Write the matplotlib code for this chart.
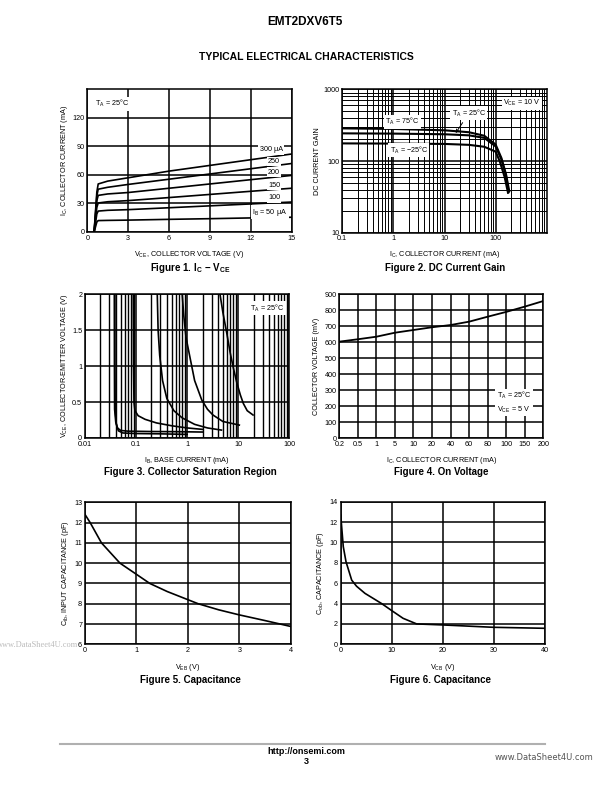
import matplotlib
matplotlib.use("Agg")
import matplotlib.pyplot as plt
from matplotlib.ticker import NullFormatter, LogLocator

plt.rcParams['font.family'] = ['Liberation Sans Narrow', 'Liberation Sans', 'DejaVu Sans']
plt.rcParams['mathtext.default'] = 'regular'

# ---------------- data ----------------
# Figure 1: IC vs VCE for several IB
vce_pts = [0.5, 0.7, 0.8, 1.5, 3, 6, 9, 12, 15]
ib_labels = ['300 \u03bcA', '250', '200', '150', '100', 'I$_B$ = 50 \u03bcA']
ic_300 = [0, 42, 50.5, 53.5, 57, 64, 70, 76, 82]
ic_250 = [0, 38, 45, 47, 50, 55.5, 61, 66.5, 72]
ic_200 = [0, 33, 38.5, 40, 41.5, 46, 50.5, 55, 59.5]
ic_150 = [0, 26, 30.5, 31.8, 33, 36.2, 39.5, 42.8, 46]
ic_100 = [0, 19, 22, 22.8, 23.5, 25.5, 27.5, 29.5, 31.5]
ic_50 = [0, 10.5, 12, 12.2, 12.5, 13.3, 14, 14.8, 15.5]

# Figure 2: DC current gain
ic_75 = [0.1, 1, 10, 30, 60, 100, 130, 160, 185]
hfe_75 = [285, 280, 268, 252, 225, 170, 110, 65, 38]
ic_25 = [0.1, 1, 10, 30, 60, 100, 130, 160, 180]
hfe_25 = [243, 241, 236, 228, 210, 160, 105, 62, 37]
ic_m25 = [0.1, 1, 10, 30, 60, 100, 120, 150, 175]
hfe_m25 = [176, 175, 173, 168, 158, 135, 100, 60, 36]

# Figure 3: collector saturation region
ib_a1 = [0.0385, 0.0386, 0.039, 0.041, 0.045, 0.055, 0.1, 0.3, 1.0]
vsat_a1 = [2.0, 1.0, 0.4, 0.2, 0.1, 0.07, 0.062, 0.058, 0.05]
ib_a2 = [0.0375, 0.0377, 0.038, 0.040, 0.043, 0.05, 0.07, 0.2, 0.6, 2.0]
vsat_a2 = [2.0, 1.0, 0.4, 0.22, 0.14, 0.105, 0.095, 0.09, 0.088, 0.083]
ib_c = [0.088, 0.089, 0.091, 0.095, 0.11, 0.15, 0.25, 0.5, 1.0, 2.0]
vsat_c = [2.0, 1.0, 0.5, 0.38, 0.31, 0.26, 0.21, 0.17, 0.14, 0.12]
ib_d = [0.26, 0.27, 0.29, 0.33, 0.4, 0.55, 0.8, 1.4, 2.5, 4.7]
vsat_d = [2.0, 1.5, 1.15, 0.8, 0.55, 0.38, 0.28, 0.19, 0.14, 0.11]
ib_e = [0.8, 0.86, 0.95, 1.13, 1.4, 1.93, 2.5, 3.2, 5, 10.5]
vsat_e = [2.0, 1.7, 1.4, 1.13, 0.8, 0.53, 0.4, 0.32, 0.23, 0.18]
ib_f = [4.4, 5.0, 6.0, 6.9, 8.0, 9.3, 11, 12.6, 15, 19.5]
vsat_f = [2.0, 1.75, 1.45, 1.2, 0.98, 0.78, 0.6, 0.48, 0.38, 0.32]

# Figure 4: on voltage (categorical current axis)
ic_cats = ['0.2', '0.5', '1', '5', '10', '20', '40', '60', '80', '100', '150', '200']
v_on = [604, 619, 635, 660, 677, 694, 708, 729, 760, 790, 823, 858]

# Figure 5: input capacitance
veb = [0, 0.1, 0.32, 0.68, 1.0, 1.26, 1.6, 2.2, 2.6, 3.0, 3.5, 4.0]
cib = [12.4, 12.0, 11.0, 10.0, 9.45, 9.0, 8.6, 8.0, 7.7, 7.45, 7.17, 6.88]

# Figure 6: output capacitance
vcb = [0, 0.5, 1.04, 2.15, 3.1, 4.75, 8, 10, 12.2, 14.85, 20, 29.8, 40]
cob = [12.7, 9.6, 8.1, 6.3, 5.7, 5.0, 4.0, 3.3, 2.55, 2.0, 1.9, 1.67, 1.57]

# ---------------- figure ----------------
fig = plt.figure(figsize=(6.12, 7.92), dpi=100)
W, H = 612.0, 792.0

def axes_px(l, t, r, b):
    return fig.add_axes([l / W, 1 - b / H, (r - l) / W, (b - t) / H])

tick_fs = 5.2
lab_fs = 5.2
cap_fs = 7
box = dict(facecolor='white', edgecolor='none', pad=1.0)

def style(ax):
    for s in ax.spines.values():
        s.set_linewidth(1.1)
    ax.tick_params(which='both', length=0, labelsize=tick_fs, pad=2)
    ax.grid(True, which='major', color='black', linewidth=1.1)
    ax.set_axisbelow(True)

# Figure 1
ax1 = axes_px(87.3, 89.3, 291.7, 232)
for ic in [ic_300, ic_250, ic_200, ic_150, ic_100, ic_50]:
    ax1.plot(vce_pts, ic, color='black', lw=1.2)
ax1.set_xlim(0, 15)
ax1.set_ylim(0, 150)
ax1.set_xticks([0, 3, 6, 9, 12, 15])
ax1.set_yticks([0, 30, 60, 90, 120])
style(ax1)
lab_y = [86.5, 74, 63, 49, 36, 21]
lab_x = [13.5, 13.7, 13.7, 13.7, 13.7, 13.4]
for t, x, y in zip(ib_labels, lab_x, lab_y):
    ax1.text(x, y, t, fontsize=tick_fs, ha='center', va='center', bbox=box)
ax1.text(0.6, 135, 'T$_A$ = 25\u00b0C', fontsize=tick_fs, ha='left', va='center', bbox=box)
ax1.set_xlabel('V$_{CE}$, COLLECTOR VOLTAGE (V)', fontsize=lab_fs, labelpad=5)
ax1.set_ylabel('I$_C$, COLLECTOR CURRENT (mA)', fontsize=lab_fs, labelpad=1.5)

# Figure 2
ax2 = axes_px(342.3, 89.3, 546.7, 232.7)
ax2.plot(ic_75, hfe_75, color='black', lw=1.5)
ax2.plot(ic_25, hfe_25, color='black', lw=1.5)
ax2.plot(ic_m25, hfe_m25, color='black', lw=1.5)
ax2.set_xscale('log')
ax2.set_yscale('log')
ax2.set_xlim(0.1, 1000)
ax2.set_ylim(10, 1000)
ax2.set_xticks([0.1, 1, 10, 100])
ax2.set_xticklabels(['0.1', '1', '10', '100'])
ax2.set_yticks([10, 100, 1000])
ax2.set_yticklabels(['10', '100', '1000'])
ax2.xaxis.set_minor_locator(LogLocator(base=10, subs=range(2, 10)))
ax2.yaxis.set_minor_locator(LogLocator(base=10, subs=range(2, 10)))
ax2.xaxis.set_minor_formatter(NullFormatter())
ax2.yaxis.set_minor_formatter(NullFormatter())
style(ax2)
ax2.grid(True, which='minor', color='black', linewidth=0.7)
ax2.text(1.5, 354, 'T$_A$ = 75\u00b0C', fontsize=tick_fs, ha='center', va='center', bbox=box)
ax2.text(2.0, 142, 'T$_A$ = \u221225\u00b0C', fontsize=tick_fs, ha='center', va='center', bbox=box)
ax2.annotate('T$_A$ = 25\u00b0C', xy=(16.5, 245), xytext=(30, 462), fontsize=tick_fs,
             ha='center', va='center', bbox=box,
             arrowprops=dict(arrowstyle='->', color='black', lw=0.7, shrinkA=2, shrinkB=0))
ax2.text(330, 638, 'V$_{CE}$ = 10 V', fontsize=tick_fs, ha='center', va='center', bbox=box)
ax2.set_xlabel('I$_C$, COLLECTOR CURRENT (mA)', fontsize=lab_fs, labelpad=5)
ax2.set_ylabel('DC CURRENT GAIN', fontsize=lab_fs, labelpad=2)

# Figure 3
ax3 = axes_px(85, 294.3, 289.3, 438)
for ib, v in [(ib_a1, vsat_a1), (ib_a2, vsat_a2), (ib_c, vsat_c), (ib_d, vsat_d),
              (ib_e, vsat_e), (ib_f, vsat_f)]:
    ax3.plot(ib, v, color='black', lw=1.2)
ax3.set_xscale('log')
ax3.set_xlim(0.01, 100)
ax3.set_ylim(0, 2)
ax3.set_xticks([0.01, 0.1, 1, 10, 100])
ax3.set_xticklabels(['0.01', '0.1', '1', '10', '100'])
ax3.set_yticks([0, 0.5, 1, 1.5, 2])
ax3.set_yticklabels(['0', '0.5', '1', '1.5', '2'])
ax3.xaxis.set_minor_locator(LogLocator(base=10, subs=range(2, 10)))
ax3.xaxis.set_minor_formatter(NullFormatter())
style(ax3)
ax3.grid(True, which='minor', axis='x', color='black', linewidth=1.0)
ax3.text(37, 1.81, 'T$_A$ = 25\u00b0C', fontsize=tick_fs, ha='center', va='center', bbox=box)
ax3.set_xlabel('I$_B$, BASE CURRENT (mA)', fontsize=lab_fs, labelpad=5)
ax3.set_ylabel('V$_{CE}$, COLLECTOR-EMITTER VOLTAGE (V)', fontsize=lab_fs, labelpad=1.5)

# Figure 4
ax4 = axes_px(339.3, 294.3, 543.3, 438.3)
ax4.plot(ic_cats, v_on, color='black', lw=1.3)
ax4.set_xlim(0, len(ic_cats) - 1)
ax4.set_ylim(0, 900)
ax4.set_yticks(range(0, 1000, 100))
style(ax4)
ax4.text(9.42, 224, 'T$_A$ = 25\u00b0C\nV$_{CE}$ = 5 V', fontsize=tick_fs, ha='center',
         va='center', linespacing=1.5, bbox=box)
ax4.set_xlabel('I$_C$, COLLECTOR CURRENT (mA)', fontsize=lab_fs, labelpad=5)
ax4.set_ylabel('COLLECTOR VOLTAGE (mV)', fontsize=lab_fs, labelpad=3)

# Figure 5
ax5 = axes_px(85, 502.3, 290.7, 644.3)
ax5.plot(veb, cib, color='black', lw=1.2)
ax5.set_xlim(0, 4)
ax5.set_ylim(6, 13)
ax5.set_xticks([0, 1, 2, 3, 4])
ax5.set_yticks(range(6, 14))
style(ax5)
ax5.set_xlabel('V$_{EB}$ (V)', fontsize=lab_fs, labelpad=6)
ax5.set_ylabel('C$_{ib}$, INPUT CAPACITANCE (pF)', fontsize=lab_fs, labelpad=2.5)

# Figure 6
ax6 = axes_px(340.7, 501.7, 545.3, 644.3)
ax6.plot(vcb, cob, color='black', lw=1.2)
ax6.set_xlim(0, 40)
ax6.set_ylim(0, 14)
ax6.set_xticks([0, 10, 20, 30, 40])
ax6.set_yticks(range(0, 15, 2))
style(ax6)
ax6.set_xlabel('V$_{CB}$ (V)', fontsize=lab_fs, labelpad=6)
ax6.set_ylabel('C$_{ob}$, CAPACITANCE (pF)', fontsize=lab_fs, labelpad=2.5)

# page text
def ftext(x, y, s, **kw):
    fig.text(x / W, 1 - y / H, s, **kw)

ftext(305, 22, 'EMT2DXV6T5', fontsize=8.5, weight='bold', ha='center', va='center')
ftext(306, 57, 'TYPICAL ELECTRICAL CHARACTERISTICS', fontsize=7.5, weight='bold',
      ha='center', va='center')
ftext(190, 268, 'Figure 1. I$_C$ \u2212 V$_{CE}$', fontsize=cap_fs, weight='bold', ha='center', va='center')
ftext(445, 268, 'Figure 2. DC Current Gain', fontsize=cap_fs, weight='bold', ha='center', va='center')
ftext(190, 472, 'Figure 3. Collector Saturation Region', fontsize=cap_fs, weight='bold',
      ha='center', va='center')
ftext(441, 472, 'Figure 4. On Voltage', fontsize=cap_fs, weight='bold', ha='center', va='center')
ftext(190, 680, 'Figure 5. Capacitance', fontsize=cap_fs, weight='bold', ha='center', va='center')
ftext(441, 680, 'Figure 6. Capacitance', fontsize=cap_fs, weight='bold', ha='center', va='center')

fig.add_artist(plt.Line2D([60 / W, 545 / W], [1 - 744 / H, 1 - 744 / H], color='#b0b0b0', lw=1.5))
ftext(306, 752, 'http://onsemi.com', fontsize=6.5, weight='bold', ha='center', va='center')
ftext(306, 762, '3', fontsize=6.5, weight='bold', ha='center', va='center')
ftext(593, 757, 'www.DataSheet4U.com', fontsize=6, color='#555555', ha='right', va='center',
      family='DejaVu Sans')
ftext(-3, 645, 'www.DataSheet4U.com', fontsize=6, color='#bbbbbb', ha='left', va='center',
      family='Liberation Serif')

fig.savefig('out.png', dpi=100)
